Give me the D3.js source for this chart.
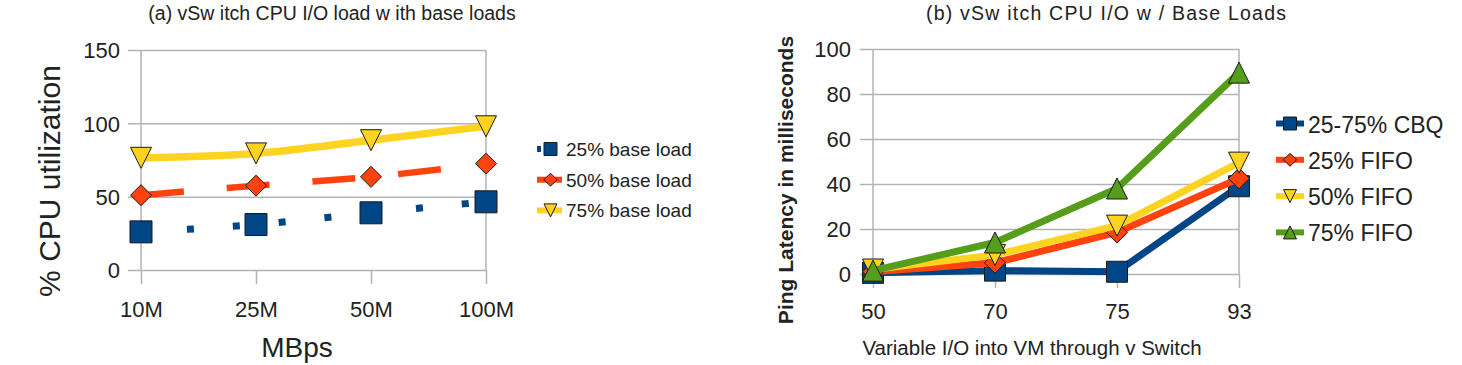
<!DOCTYPE html>
<html>
<head>
<meta charset="utf-8">
<script src="https://cdn.jsdelivr.net/npm/d3@7"></script>
<style>
  html, body { margin: 0; padding: 0; background: #ffffff; }
  svg { display: block; font-family: "Liberation Sans", Arial, sans-serif; }
</style>
</head>
<body>
<div id="chart"></div>
<script>
// (a) vSwitch CPU I/O load with base loads
const cpuCategories = ['10M', '25M', '50M', '100M'];
const cpuTicks = [0, 50, 100, 150];
const cpuSeriesNames = ['25% base load', '50% base load', '75% base load'];
const cpuBase25 = [26, 31, 39, 46.5];
const cpuBase50 = [51, 57.5, 63.5, 72.5];
const cpuBase75 = [76.5, 79.5, 88.5, 98];

// (b) ping latency with base loads
const pingCategories = ['50', '70', '75', '93'];
const pingTicks = [0, 20, 40, 60, 80, 100];
const pingSeriesNames = ['25-75% CBQ', '25% FIFO', '50% FIFO', '75% FIFO'];
const pingCbq = [0.5, 1.5, 1, 39];
const pingFifo25 = [1, 5, 18.5, 42.5];
const pingFifo50 = [2, 8.5, 21.5, 49.5];
const pingFifo75 = [1.5, 14, 38, 89.5];

const BLUE = '#004586', ORANGE = '#ff420e', YELLOW = '#ffd320', GREEN = '#579d1c';
const GRID = '#b3b3b3';
const TEXT = '#222';

// marker shapes, h = half size
function markerPath(shape, h) {
    if (shape === 'square') return `M${-h},${-h}H${h}V${h}H${-h}Z`;
    if (shape === 'diamond') return `M0,${-h}L${h},0L0,${h}L${-h},0Z`;
    if (shape === 'down') return `M${-h},${-h}L${h},${-h}L0,${h}Z`;
    return `M0,${-h}L${h},${h}L${-h},${h}Z`; // up
}

const svg = d3.select('#chart')
    .append('svg')
    .attr('width', 1462)
    .attr('height', 365);

svg.append('rect').attr('width', 1462).attr('height', 365).attr('fill', '#fff');

function drawFrame(g, x, y, cfg) {
    const left = x.range()[0], right = x.range()[1];
    const top = y.range()[1], bottom = y.range()[0];

    // horizontal grid + labels, axis hung on the right edge
    const yAxis = d3.axisLeft(y)
        .tickValues(cfg.yTicks)
        .tickSize(right - cfg.gridStart)
        .tickPadding(cfg.yPad)
        .tickFormat(d3.format('d'));
    const ya = g.append('g').attr('transform', `translate(${right},0)`).call(yAxis);
    ya.select('.domain').remove();
    ya.selectAll('line').attr('stroke', GRID).attr('stroke-width', 1.5);
    ya.selectAll('text').attr('fill', TEXT).style('font-size', cfg.tickFont + 'px')
        .attr('dy', '0.36em');

    // frame sides
    [left, right].forEach(function(xx) {
        g.append('line').attr('x1', xx).attr('x2', xx).attr('y1', top).attr('y2', bottom)
            .attr('stroke', GRID).attr('stroke-width', 1.5);
    });

    const xAxis = d3.axisBottom(x).tickSize(14).tickPadding(cfg.xPad);
    const xa = g.append('g').attr('transform', `translate(0,${bottom})`).call(xAxis);
    xa.select('.domain').remove();
    xa.selectAll('line').attr('stroke', GRID).attr('stroke-width', 1.5);
    xa.selectAll('text').attr('fill', TEXT).style('font-size', cfg.tickFont + 'px');
}

function drawLegend(g, items, cfg) {
    items.forEach(function(s, i) {
        const cy = cfg.y + i * cfg.step;
        const li = g.append('g');
        li.append('line')
            .attr('x1', cfg.x1).attr('x2', cfg.x2).attr('y1', cy).attr('y2', cy)
            .attr('stroke', s.color).attr('stroke-width', cfg.lineWidth)
            .attr('stroke-dasharray', s.dash || null);
        li.append('path')
            .attr('transform', `translate(${(cfg.x1 + cfg.x2) / 2 + (cfg.markerShift || 0)},${cy})`)
            .attr('d', markerPath(s.shape, cfg.marker))
            .attr('fill', s.color).attr('stroke', '#1a1a1a').attr('stroke-width', 1);
        li.append('text')
            .attr('x', cfg.tx).attr('y', cy + cfg.baseShift)
            .attr('fill', TEXT).style('font-size', cfg.font + 'px')
            .text(s.name);
    });
}

initCpuChart();
function initCpuChart() {
    const g = svg.append('g').attr('class', 'panel-a');
    const x = d3.scalePoint().domain(cpuCategories).range([141, 486]);
    const y = d3.scaleLinear().domain([0, 150]).range([270, 50]);

    drawFrame(g, x, y, { yTicks: cpuTicks, gridStart: 128, yPad: 8, xPad: 17, tickFont: 22 });

    const series = [
        { name: cpuSeriesNames[0], values: cpuBase25, color: BLUE, shape: 'square', dash: '7,39', width: 7 },
        { name: cpuSeriesNames[1], values: cpuBase50, color: ORANGE, shape: 'diamond', dash: '43,43', width: 6.5 },
        { name: cpuSeriesNames[2], values: cpuBase75, color: YELLOW, shape: 'down', dash: null, width: 7.5 }
    ];

    // trend lines
    const line = d3.line()
        .x(function(d, i) { return x(cpuCategories[i]); })
        .y(function(d) { return y(d); })
        .curve(d3.curveMonotoneX);

    series.forEach(function(s) {
        g.append('path')
            .attr('d', line(s.values))
            .attr('fill', 'none')
            .attr('stroke', s.color)
            .attr('stroke-width', s.width)
            .attr('stroke-dasharray', s.dash);
    });
    series.forEach(function(s) {
        g.selectAll(null)
            .data(s.values)
            .join('path')
            .attr('transform', function(d, i) { return `translate(${x(cpuCategories[i])},${y(d)})`; })
            .attr('d', markerPath(s.shape, s.shape === 'square' ? 11 : 10.5))
            .attr('fill', s.color)
            .attr('stroke', '#1a1a1a')
            .attr('stroke-width', 1);
    });

    g.append('text')
        .attr('x', 332).attr('y', 20).attr('text-anchor', 'middle')
        .attr('fill', TEXT).style('font-size', '19.5px')
        .text('(a) vSw itch CPU I/O load w ith base loads');

    g.append('text')
        .attr('transform', 'translate(60,181) rotate(-90)')
        .attr('text-anchor', 'middle')
        .attr('fill', TEXT).style('font-size', '30px')
        .text('% CPU utilization');

    g.append('text')
        .attr('x', 297).attr('y', 357).attr('text-anchor', 'middle')
        .attr('fill', TEXT).style('font-size', '28px')
        .text('MBps');

    drawLegend(g, series.map(function(s) {
        return { name: s.name, color: s.color, shape: s.shape, dash: s.dash ? (s.shape === 'square' ? '4,40' : null) : null };
    }), { x1: 537, x2: 562, y: 149, step: 30.7, lineWidth: 6, marker: 6.5, tx: 566, baseShift: 7, font: 19, markerShift: 1 });
}

initPingChart();
function initPingChart() {
    const g = svg.append('g').attr('class', 'panel-b');
    const x = d3.scalePoint().domain(pingCategories).range([873, 1239]);
    const y = d3.scaleLinear().domain([0, 100]).range([274, 49]);

    drawFrame(g, x, y, { yTicks: pingTicks, gridStart: 860, yPad: 9, xPad: 15, tickFont: 22 });

    const series = [
        { name: pingSeriesNames[0], values: pingCbq, color: BLUE, shape: 'square' },
        { name: pingSeriesNames[1], values: pingFifo25, color: ORANGE, shape: 'diamond' },
        { name: pingSeriesNames[2], values: pingFifo50, color: YELLOW, shape: 'down' },
        { name: pingSeriesNames[3], values: pingFifo75, color: GREEN, shape: 'up' }
    ];

    const line = d3.line()
        .x(function(d, i) { return x(pingCategories[i]); })
        .y(function(d) { return y(d); });

    series.forEach(function(s) {
        g.append('path')
            .attr('d', line(s.values))
            .attr('fill', 'none')
            .attr('stroke', s.color)
            .attr('stroke-width', 7)
            .attr('stroke-linejoin', 'round');
        g.selectAll(null)
            .data(s.values)
            .join('path')
            .attr('transform', function(d, i) { return `translate(${x(pingCategories[i])},${y(d)})`; })
            .attr('d', markerPath(s.shape, 10.5))
            .attr('fill', s.color)
            .attr('stroke', '#1a1a1a')
            .attr('stroke-width', 1);
    });

    g.append('text')
        .attr('x', 1106).attr('y', 20).attr('text-anchor', 'middle')
        .attr('textLength', 360).attr('lengthAdjust', 'spacing')
        .attr('fill', TEXT).style('font-size', '19.5px')
        .text('(b) vSw itch CPU I/O w / Base Loads');

    g.append('text')
        .attr('transform', 'translate(793,180) rotate(-90)')
        .attr('text-anchor', 'middle')
        .attr('fill', TEXT).style('font-size', '21px').style('font-weight', 'bold')
        .text('Ping Latency in milliseconds');

    g.append('text')
        .attr('x', 1032).attr('y', 355).attr('text-anchor', 'middle')
        .attr('fill', TEXT).style('font-size', '20.5px')
        .text('Variable I/O into VM through v Switch');

    drawLegend(g, series, { x1: 1276, x2: 1304, y: 123.5, step: 36.3, lineWidth: 6, marker: 6.5, tx: 1308, baseShift: 9, font: 23 });
}
</script>
</body>
</html>
